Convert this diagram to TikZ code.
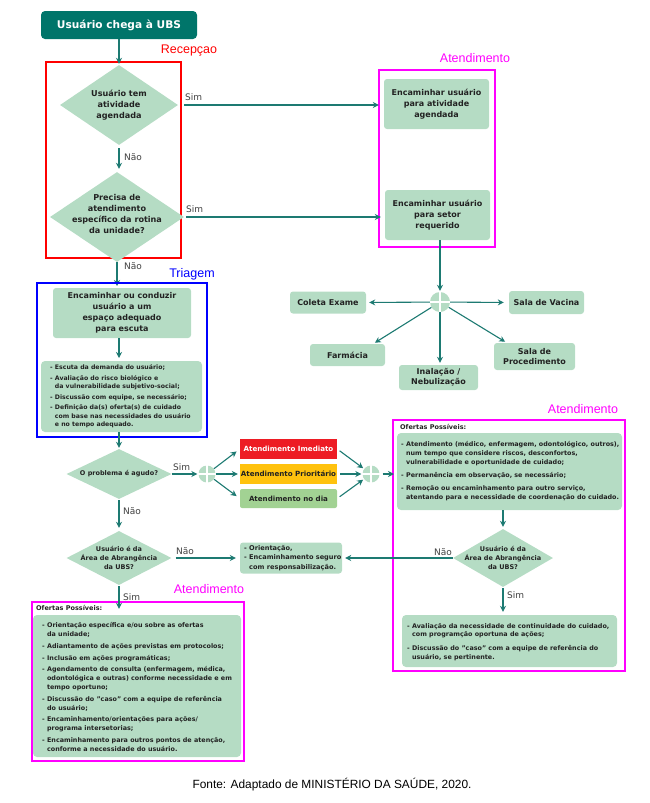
\documentclass[tikz,border=0pt]{standalone}
\usepackage{fontspec}
\setmainfont{DejaVu Sans}
\newfontfamily\arialf{Liberation Sans}
\usetikzlibrary{shapes.geometric,arrows.meta}
\definecolor{mint}{HTML}{B5DCC4}
\definecolor{tealdk}{HTML}{00756A}
\definecolor{arrc}{HTML}{1D7A72}
\definecolor{txt}{HTML}{222222}
\definecolor{imred}{HTML}{ED1C24}
\definecolor{pryel}{HTML}{FFC20E}
\definecolor{dgreen}{HTML}{A2D293}
\definecolor{mag}{HTML}{FF00FF}
\definecolor{blu}{HTML}{0000FF}
\definecolor{rd}{HTML}{FF0000}
\begin{document}
\begin{tikzpicture}[x=1pt,y=-1pt,
 arr/.style={draw=arrc,line width=1.1pt,-{Stealth[length=6pt,width=6pt]}},
 gbox/.style={fill=mint,rounded corners=3pt,inner sep=0pt,text=txt,font=\bfseries\fontsize{8}{11}\selectfont,align=center},
 ebox/.style={fill=mint,rounded corners=4pt,inner sep=0pt},
 btext/.style={text=txt,font=\bfseries\fontsize{6.4}{8.8}\selectfont,align=left,inner sep=0pt,anchor=west},
 dia/.style={diamond,fill=mint,inner sep=0pt},
 dtext/.style={text=txt,font=\bfseries\fontsize{8.1}{11.2}\selectfont,align=center,inner sep=0pt},
 stext/.style={text=txt,font=\bfseries\fontsize{6.5}{9}\selectfont,align=center,inner sep=0pt},
 jun/.style={circle,fill=mint,inner sep=0pt},
 lab/.style={text=black!75,font=\fontsize{9}{10}\selectfont,inner sep=0pt,anchor=west},
 sect/.style={font=\arialf\fontsize{12.5}{13}\selectfont,inner sep=0pt},
 frame/.style={line width=2pt},
]
\useasboundingbox (0,0) rectangle (650,803);

% ---------- Recepcao ----------
\node[fill=tealdk,rounded corners=4pt,minimum width=156pt,minimum height=28pt,inner sep=0pt,
      text=white,font=\bfseries\fontsize{10.6}{12}\selectfont] (start) at (119,25) {Usuário chega à UBS};
\node[sect,text=rd] (lrec) at (189,51) {Recepçao};
\draw[rd,frame] (46,62) rectangle (181,258);

\node[dia,minimum width=118pt,minimum height=80pt] (d1) at (119,105) {};
\node[dtext] (d1t) at (119,105) {Usuário tem\\atividade\\agendada};
\node[dia,minimum width=134pt,minimum height=90pt] (d2) at (117,217) {};
\node[dtext] (d2t) at (117,214) {Precisa de\\atendimento\\específico da rotina\\da unidade?};

\draw[arr,shorten >=1pt] (start.south) -- (start.south |- d1.north);
\draw[arr,shorten <=3pt,shorten >=3pt] (d1.south) -- (d1.south |- d2.north);
\node[lab] (n1) at (124,157) {Não};

% ---------- Atendimento (top right) ----------
\node[sect,text=mag] (lat1) at (475,58) {Atendimento};
\draw[mag,frame] (379,70) rectangle (495,247);
\node[gbox,minimum width=105pt,minimum height=50pt] (box1) at (436.5,104) {Encaminhar usuário\\para atividade\\agendada};
\node[gbox,minimum width=105pt,minimum height=50pt] (box2) at (437.5,215) {Encaminhar usuário\\para setor\\requerido};

\draw[arr,shorten >=5pt] ([xshift=6pt]d1.east) -- (d1 -| box1.west);
\node[lab] (s1) at (185,97) {Sim};
\draw[arr,shorten >=4pt] ([xshift=2pt]d2.east) -- (d2 -| box2.west);
\node[lab] (s2) at (186,209) {Sim};

% ---------- setor junction ----------
\node[jun,minimum size=20pt] (J1) at (440,302) {};
\draw[white,line width=1.2pt] (J1.north) -- (J1.south) (J1.west) -- (J1.east);
\draw[arr,shorten >=1pt] (box2.south -| J1) -- (J1.north);

\node[gbox,minimum width=76pt,minimum height=22pt] (col) at (328,302.5) {Coleta Exame};
\node[gbox,minimum width=75pt,minimum height=23pt] (vac) at (546.5,302.5) {Sala de Vacina};
\node[gbox,minimum width=75pt,minimum height=22pt] (far) at (347.5,355) {Farmácia};
\node[gbox,minimum width=79pt,minimum height=25pt,font=\bfseries\fontsize{8}{10}\selectfont] (ina) at (438.5,377.5) {Inalação /\\Nebulização};
\node[gbox,minimum width=81pt,minimum height=27pt,font=\bfseries\fontsize{8}{10}\selectfont] (pro) at (534.5,356.5) {Sala de\\Procedimento};

\draw[arr,shorten >=3pt] (J1) -- (col.east);
\draw[arr,shorten >=5pt] (J1) -- (vac.west);
\draw[arr,shorten >=2pt] (J1) -- ([xshift=-12pt]far.north east);
\draw[arr,shorten >=2pt] (J1) -- (J1 |- ina.north);
\draw[arr,shorten >=2pt] (J1) -- ([xshift=13pt]pro.north west);

% ---------- Triagem ----------
\draw[arr,shorten <=0pt,shorten >=2pt] (d2.south) -- (d2.south |- 0,288);
\node[lab] (n2) at (124,266) {Não};
\node[sect,text=blu] (ltri) at (192,274) {Triagem};
\draw[blu,frame] (37,283) rectangle (207,437);
\node[gbox,minimum width=138pt,minimum height=50pt] (esc) at (122,313) {Encaminhar ou conduzir\\usuário a um\\espaço adequado\\para escuta};
\node[ebox,minimum width=161pt,minimum height=71pt] (tli) at (121.5,396.5) {};
\node[btext,font=\bfseries\fontsize{6.2}{8.6}\selectfont] (tlit) at (50,396.5) {- Escuta da demanda do usuário;\\[1.8pt]
- Avaliação do risco biológico e\\
\phantom{- }da vulnerabilidade subjetivo-social;\\[1.8pt]
- Discussão com equipe, se necessário;\\[1.8pt]
- Definição da(s) oferta(s) de cuidado\\
\phantom{- }com base nas necessidades do usuário\\
\phantom{- }e no tempo adequado.};
\draw[arr,shorten >=3pt] (esc.south -| 119,0) -- (119,361);

% ---------- agudo ----------
\node[dia,minimum width=105pt,minimum height=50pt] (d3) at (119,474) {};
\node[stext] (d3t) at (119,474) {O problema é agudo?};
\draw[arr,shorten >=1pt] (tli.south -| d3.north) -- (d3.north);

\node[jun,minimum size=17pt] (J2) at (207,474) {};
\draw[white,line width=1.1pt] (J2.north) -- (J2.south) (J2.west) -- (J2.east);
\draw[arr,shorten >=1pt] (d3.east) -- (J2.west);
\node[lab] (s3) at (173,467) {Sim};

\node[fill=imred,minimum width=97pt,minimum height=20pt,inner sep=0pt,text=white,font=\bfseries\fontsize{7.1}{8}\selectfont] (imm) at (288.5,449) {Atendimento Imediato};
\node[fill=pryel,minimum width=97pt,minimum height=20pt,inner sep=0pt,text=txt,font=\bfseries\fontsize{7.1}{8}\selectfont] (pri) at (288.5,474) {Atendimento Prioritário};
\node[fill=dgreen,rounded corners=2pt,minimum width=97pt,minimum height=19pt,inner sep=0pt,text=txt,font=\bfseries\fontsize{7.1}{8}\selectfont] (ndia) at (288.5,498.5) {Atendimento no dia};

\draw[arr,shorten >=4pt] (J2) -- (imm.west);
\draw[arr,shorten >=2pt] (J2) -- (pri.west);
\draw[arr,shorten >=4pt] (J2) -- (ndia.west);

\node[jun,minimum size=17pt] (J3) at (371,474) {};
\draw[white,line width=1.1pt] (J3.north) -- (J3.south) (J3.west) -- (J3.east);
\draw[arr,shorten <=3pt,shorten >=1pt] (imm.east) -- (J3);
\draw[arr,shorten <=3pt,shorten >=1pt] (pri.east) -- (J3.west);
\draw[arr,shorten <=3pt,shorten >=1pt] (ndia.east) -- (J3);

% ---------- Atendimento right ----------
\node[sect,text=mag] (lat2) at (583,409) {Atendimento};
\draw[mag,frame] (393,420) rectangle (625,671);
\node[text=txt,font=\bfseries\fontsize{6.5}{8}\selectfont,inner sep=0pt,anchor=west] (ofr) at (400,427) {Ofertas Possíveis:};
\node[ebox,minimum width=225pt,minimum height=77pt] (ofR) at (509.5,471.5) {};
\node[btext,font=\bfseries\fontsize{6.4}{9.3}\selectfont] (ofRt) at (401,471) {- Atendimento (médico, enfermagem, odontológico, outros),\\
\phantom{- }num tempo que considere riscos, desconfortos,\\
\phantom{- }vulnerabilidade e oportunidade de cuidado;\\[3.6pt]
- Permanência em observação, se necessário;\\[3.6pt]
- Remoção ou encaminhamento para outro serviço,\\
\phantom{- }atentando para e necessidade de coordenação do cuidado.};
\coordinate (ofin) at (394,474);
\draw[arr,shorten <=3pt,shorten >=0pt] (J3.east) -- (ofin);

\node[dia,minimum width=100pt,minimum height=58pt] (d4) at (503,558) {};
\node[stext] (d4t) at (503,558) {Usuário é da\\Área de Abrangência\\da UBS?};
\draw[arr,shorten >=2pt] (ofR.south -| d4.north) -- (d4.north);
\node[lab] (n4) at (434,552) {Não};
\node[lab] (s4) at (507,595) {Sim};
\node[ebox,minimum width=215pt,minimum height=52pt] (bR) at (509.5,641) {};
\node[btext] (bRt) at (407,642) {- Avaliação da necessidade de continuidade do cuidado,\\
\phantom{- }com programção oportuna de ações;\\[5pt]
- Discussão do "caso" com a equipe de referência do\\
\phantom{- }usuário, se pertinente.};
\draw[arr,shorten <=1pt,shorten >=3pt] (d4.south) -- (d4.south |- bR.north);

% ---------- abrangencia left ----------
\node[dia,minimum width=105pt,minimum height=54pt] (d5) at (119,558) {};
\node[stext] (d5t) at (119,558) {Usuário é da\\Área de Abrangência\\da UBS?};
\draw[arr,shorten <=1pt,shorten >=3pt] (d3.south) -- (d5.north);
\node[lab] (n3) at (123,511) {Não};

\node[ebox,rounded corners=3pt,minimum width=102pt,minimum height=31pt] (ori) at (291,558) {};
\node[btext,font=\bfseries\fontsize{6.6}{9.4}\selectfont] (orit) at (244,558) {- Orientação,\\- Encaminhamento seguro\\\phantom{- }com responsabilização.};
\draw[arr,shorten <=4pt,shorten >=4pt] (d5.east) -- (d5 -| ori.west);
\node[lab] (n5) at (176,551) {Não};
\draw[arr,shorten >=3pt] (d4.west) -- (d4 -| ori.east);

% ---------- Atendimento bottom left ----------
\node[sect,text=mag] (lat3) at (209,589) {Atendimento};
\draw[mag,frame] (32,602) rectangle (244,761);
\node[text=txt,font=\bfseries\fontsize{6.5}{8}\selectfont,inner sep=0pt,anchor=west] (ofl) at (36,608) {Ofertas Possíveis:};
\node[ebox,minimum width=208pt,minimum height=142pt] (bL) at (137,686) {};
\node[btext] (bLt) at (42,687) {- Orientação específica e/ou sobre as ofertas\\
\phantom{- }da unidade;\\[3pt]
- Adiantamento de ações previstas em protocolos;\\[3pt]
- Inclusão em ações programáticas;\\[3pt]
- Agendamento de consulta (enfermagem, médica,\\
\phantom{- }odontológica e outras) conforme necessidade e em\\
\phantom{- }tempo oportuno;\\[3pt]
- Discussão do "caso" com a equipe de referência\\
\phantom{- }do usuário;\\[3pt]
- Encaminhamento/orientações para ações/\\
\phantom{- }programa intersetorias;\\[3pt]
- Encaminhamento para outros pontos de atenção,\\
\phantom{- }conforme a necessidade do usuário.};
\draw[arr,shorten <=1pt,shorten >=6pt] (d5.south) -- (d5.south |- bL.north);
\node[lab] (s5) at (123,597) {Sim};

% ---------- source ----------
\node[font=\arialf\fontsize{11.9}{13}\selectfont,inner sep=0pt] (src) at (332,785) {Fonte: Adaptado de MINISTÉRIO DA SAÚDE, 2020.};
\end{tikzpicture}
\end{document}
